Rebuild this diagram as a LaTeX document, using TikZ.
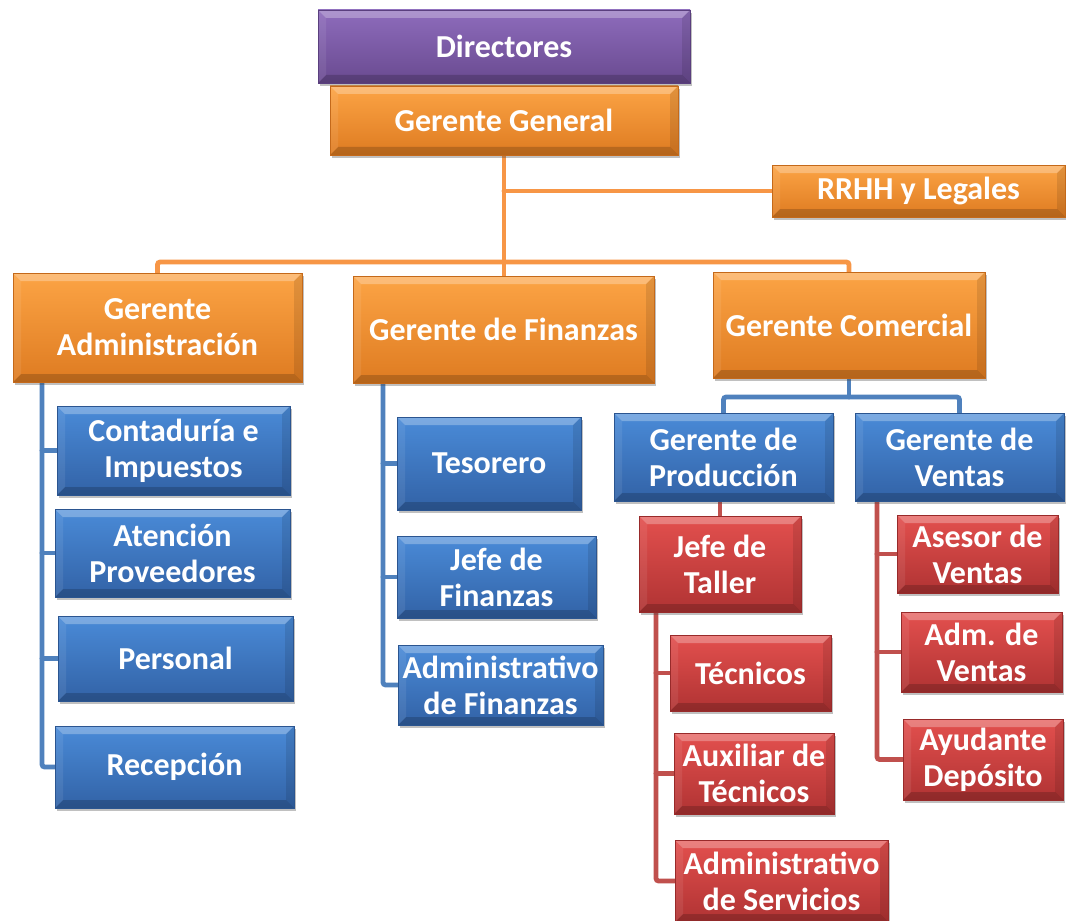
\documentclass[tikz,border=0pt]{standalone}
\usepackage{fontspec}
\setmainfont{Carlito}
\usetikzlibrary{shadows,backgrounds}

% box fills (top / bottom / edge)
\definecolor{purT}{HTML}{8E6CBC}
\definecolor{purB}{HTML}{694A90}
\definecolor{purE}{HTML}{5A3F7E}
\definecolor{orgT}{HTML}{FCA445}
\definecolor{orgB}{HTML}{DE7B21}
\definecolor{orgE}{HTML}{C4691A}
\definecolor{bluT}{HTML}{4A8BD8}
\definecolor{bluB}{HTML}{3262A6}
\definecolor{bluE}{HTML}{2B5590}
\definecolor{redT}{HTML}{E3504E}
\definecolor{redB}{HTML}{B03333}
\definecolor{redE}{HTML}{982A2A}
% connector colours
\definecolor{orgL}{HTML}{F79646}
\definecolor{bluL}{HTML}{4F81BD}
\definecolor{redL}{HTML}{C0504D}

\tikzset{
  bevel/.style={path picture={
    \fill[white,opacity=0.28] (path picture bounding box.north west) -- (path picture bounding box.north east)
      -- ([xshift=-6pt,yshift=-6pt]path picture bounding box.north east) -- ([xshift=6pt,yshift=-6pt]path picture bounding box.north west) -- cycle;
    \fill[black,opacity=0.18] (path picture bounding box.south west) -- (path picture bounding box.south east)
      -- ([xshift=-6pt,yshift=6pt]path picture bounding box.south east) -- ([xshift=6pt,yshift=6pt]path picture bounding box.south west) -- cycle;
    \fill[black,opacity=0.10] (path picture bounding box.north east) -- (path picture bounding box.south east)
      -- ([xshift=-6pt,yshift=6pt]path picture bounding box.south east) -- ([xshift=-6pt,yshift=-6pt]path picture bounding box.north east) -- cycle;
    \fill[white,opacity=0.08] (path picture bounding box.north west) -- (path picture bounding box.south west)
      -- ([xshift=6pt,yshift=6pt]path picture bounding box.south west) -- ([xshift=6pt,yshift=-6pt]path picture bounding box.north west) -- cycle;
  }},
  orgbox/.style n args={3}{top color=#1, bottom color=#2, draw=#3, line width=0.6pt,
    inner sep=0pt, text=white, align=center,
    font=\bfseries\fontsize{24}{27}\selectfont,
    drop shadow={shadow xshift=1.5pt, shadow yshift=-2.5pt, opacity=0.35, fill=black!70},
    bevel},
  purplebox/.style={orgbox={purT}{purB}{purE}},
  orangebox/.style={orgbox={orgT}{orgB}{orgE}},
  bluebox/.style={orgbox={bluT}{bluB}{bluE}},
  redbox/.style={orgbox={redT}{redB}{redE}},
  link/.style={line width=3.6pt, rounded corners=2pt, line cap=round},
}

% \unit{name}{style}{x1}{y1}{x2}{y2}{text}: box spanning the two corners
\newcommand\unit[7]{%
  \pgfmathsetmacro\boxcx{(#3+#5)/2}%
  \pgfmathsetmacro\boxcy{(#4+#6)/2}%
  \pgfmathsetmacro\boxw{(#5-#3)*0.75}%
  \pgfmathsetmacro\boxh{(#6-#4)*0.75}%
  \node[#2, minimum width=\boxw pt, minimum height=\boxh pt] (#1) at (\boxcx,\boxcy) {#7};}

\begin{document}
\begin{tikzpicture}[x=0.75pt, y=-0.75pt]
\useasboundingbox (0,0) rectangle (1066,920);

% top level
\unit{gg}{orangebox}{330}{86}{678}{155}{Gerente General}
\unit{dir}{purplebox}{318}{10}{690}{83}{Directores}
\unit{rrhh}{orangebox}{772}{165}{1065}{217}{RRHH y Legales}

% managers
\unit{ga}{orangebox}{13}{273}{302}{382}{Gerente\\Administración}
\unit{gf}{orangebox}{353}{276}{654}{383}{Gerente de Finanzas}
\unit{gc}{orangebox}{713}{272}{985}{378}{Gerente Comercial}

% administration
\unit{cont}{bluebox}{57}{406}{290}{495}{Contaduría e\\Impuestos}
\unit{aten}{bluebox}{55}{509}{290}{597}{Atención\\Proveedores}
\unit{pers}{bluebox}{58}{616}{293}{701}{Personal}
\unit{rec}{bluebox}{55}{726}{294}{808}{Recepción}

% finance
\unit{tes}{bluebox}{397}{417}{581}{510}{Tesorero}
\unit{jf}{bluebox}{397}{536}{596}{618}{Jefe de\\Finanzas}
\unit{af}{bluebox}{398}{645}{603}{725}{Administrativo\\de Finanzas}

% commercial
\unit{gp}{bluebox}{614}{413}{833}{501}{Gerente de\\Producción}
\unit{gv}{bluebox}{855}{413}{1064}{501}{Gerente de\\Ventas}

% production
\unit{jt}{redbox}{639}{516}{801}{612}{Jefe de\\Taller}
\unit{tec}{redbox}{670}{635}{831}{711}{Técnicos}
\unit{aux}{redbox}{674}{733}{834}{814}{Auxiliar de\\Técnicos}
\unit{ase}{redbox}{675}{840}{888}{922}{Administrativo\\de Servicios}

% sales
\unit{asv}{redbox}{897}{515}{1058}{593}{Asesor de\\Ventas}
\unit{adv}{redbox}{901}{612}{1062}{692}{Adm. de\\Ventas}
\unit{ayd}{redbox}{903}{719}{1063}{800}{Ayudante\\Depósito}

\begin{pgfonlayer}{background}
  \fill[white] (0,0) rectangle (1066,920);

  % bus lines and trunk positions
  \coordinate (bus) at (0,262);
  \coordinate (cbus) at (0,397);
  \coordinate (ta) at (42,0);
  \coordinate (tf) at (383,0);
  \coordinate (tj) at (656,0);
  \coordinate (tv) at (877,0);

  % general management
  \draw[link, orgL] (gg.south) -- (gg.south |- gf.north);
  \draw[link, orgL] (gg.south |- rrhh.west) -- (rrhh.west);
  \draw[link, orgL] (ga.north) -- (ga.north |- bus) -- (gc.north |- bus) -- (gc.north);

  % administration
  \draw[link, bluL] (ta |- ga.south) -- (ta |- rec.west) -- (rec.west);
  \draw[link, bluL] (ta |- cont.west) -- (cont.west);
  \draw[link, bluL] (ta |- aten.west) -- (aten.west);
  \draw[link, bluL] (ta |- pers.west) -- (pers.west);

  % finance
  \draw[link, bluL] (tf |- gf.south) -- (tf |- af.west) -- (af.west);
  \draw[link, bluL] (tf |- tes.west) -- (tes.west);
  \draw[link, bluL] (tf |- jf.west) -- (jf.west);

  % commercial
  \draw[link, bluL] (gc.south) -- (gc.south |- cbus);
  \draw[link, bluL] (gp.north) -- (gp.north |- cbus) -- (gv.north |- cbus) -- (gv.north);

  % production
  \draw[link, redL] (jt.north) -- (jt.north |- gp.south);
  \draw[link, redL] (tj |- jt.south) -- (tj |- ase.west) -- (ase.west);
  \draw[link, redL] (tj |- tec.west) -- (tec.west);
  \draw[link, redL] (tj |- aux.west) -- (aux.west);

  % sales
  \draw[link, redL] (tv |- gv.south) -- (tv |- ayd.west) -- (ayd.west);
  \draw[link, redL] (tv |- asv.west) -- (asv.west);
  \draw[link, redL] (tv |- adv.west) -- (adv.west);
\end{pgfonlayer}
\end{tikzpicture}
\end{document}
